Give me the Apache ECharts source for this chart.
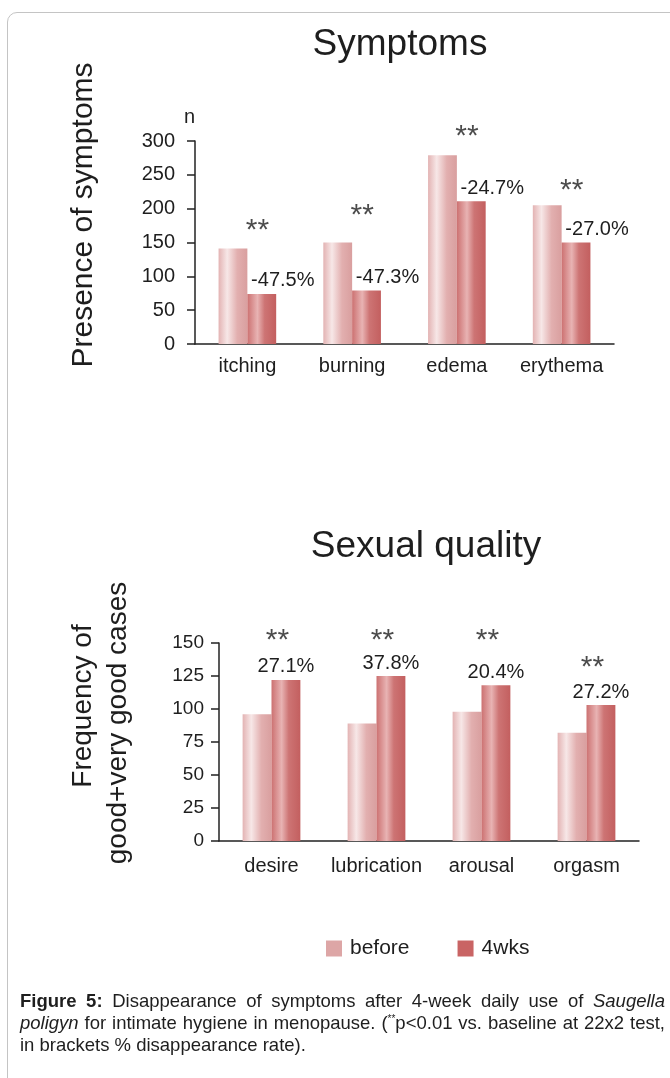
<!DOCTYPE html>
<html>
<head>
<meta charset="utf-8">
<script src="https://cdn.jsdelivr.net/npm/echarts@6/dist/echarts.min.js"></script>
<style>
  html, body { margin: 0; padding: 0; background: #fff; }
  #wrap { position: relative; width: 670px; height: 1078px; overflow: hidden; }
  #frame { position: absolute; left: 7px; top: 12px; width: 700px; height: 1100px;
    border: 1.5px solid #c4c4c4; border-radius: 10px; }
  #chart { position: absolute; left: 0; top: 0; width: 670px; height: 1078px; }
  #caption { position: absolute; left: 20px; top: 990px; width: 645px;
    font-family: 'Liberation Sans', Arial, sans-serif; font-size: 18.5px; color: #1e1e1e; line-height: 22px; }
  #caption div { text-align: justify; text-align-last: justify; white-space: nowrap; }
  #caption div.last { text-align-last: left; }
  sup { font-size: 10px; line-height: 0; }
</style>
</head>
<body>
<div id="wrap">
  <div id="frame"></div>
  <div id="chart"></div>
  <div id="caption">
    <div><b>Figure 5:</b> Disappearance of symptoms after 4-week daily use of <i>Saugella</i></div>
    <div><i>poligyn</i> for intimate hygiene in menopause. (<sup>**</sup>p&lt;0.01 vs. baseline at 22x2 test,</div>
    <div class="last">in brackets % disappearance rate).</div>
  </div>
</div>
<script>
// symptoms chart
const symCats = ['itching', 'burning', 'edema', 'erythema']
const symBefore = [141, 150, 279, 205]
const symAfter = [74, 79, 211, 150]
const symPct = ['-47.5%', '-47.3%', '-24.7%', '-27.0%']
const symStars = [168, 189, 306, 226]
const symTicks = { min: 0, max: 300, interval: 50 }

// sexual quality chart
const sexCats = ['desire', 'lubrication', 'arousal', 'orgasm']
const sexBefore = [96, 89, 98, 82]
const sexAfter = [122, 125, 118, 103]
const sexPct = ['27.1%', '37.8%', '20.4%', '27.2%']
const sexStars = [152, 152, 152, 131]
const sexTicks = { min: 0, max: 150, interval: 25 }

const FONT = "'Liberation Sans', Arial, sans-serif"
const TXT = '#1e1e1e'

const chart = echarts.init(document.getElementById('chart'))

const beforeFill = new echarts.graphic.LinearGradient(0, 0, 1, 0, [
  { offset: 0, color: '#e3b3b3' },
  { offset: 0.3, color: '#f7e7e7' },
  { offset: 0.65, color: '#e2afaf' },
  { offset: 1, color: '#d99f9f' }
])
const afterFill = new echarts.graphic.LinearGradient(0, 0, 1, 0, [
  { offset: 0, color: '#cc7171' },
  { offset: 0.35, color: '#e8b3b3' },
  { offset: 0.6, color: '#cd7474' },
  { offset: 1, color: '#c35f5f' }
])

function xAxis(cats, idx, margin) {
  return {
    type: 'category', gridIndex: idx, data: cats,
    axisLine: { lineStyle: { color: '#222', width: 1.5 } },
    axisTick: { length: 7, lineStyle: { color: '#222', width: 1.5 } },
    axisLabel: { interval: 0, color: TXT, fontSize: 20, fontFamily: FONT, margin: margin }
  }
}

function yAxis(t, idx, fontSize, margin, name) {
  return {
    type: 'value', gridIndex: idx, min: t.min, max: t.max, interval: t.interval,
    name: name, nameLocation: 'end', nameGap: 14,
    nameTextStyle: { color: TXT, fontSize: 20, fontFamily: FONT, align: 'right' },
    axisLine: { show: true, lineStyle: { color: '#222', width: 1.5 } },
    axisTick: { show: true, length: 8, lineStyle: { color: '#222', width: 1.5 } },
    axisLabel: { color: TXT, fontSize: fontSize, fontFamily: FONT, margin: margin },
    splitLine: { show: false }
  }
}

function bars(idx, before, after, pct, stars, pctOffset, starOffset) {
  return [
    {
      name: 'before', type: 'bar', xAxisIndex: idx, yAxisIndex: idx,
      data: before, barGap: '0%', barCategoryGap: '45%',
      itemStyle: { color: beforeFill }
    },
    {
      name: '4wks', type: 'bar', xAxisIndex: idx, yAxisIndex: idx,
      data: after, barGap: '0%', barCategoryGap: '45%',
      itemStyle: { color: afterFill },
      label: {
        show: true, position: 'top', distance: 3, offset: pctOffset,
        color: TXT, fontSize: 20, fontFamily: FONT,
        formatter: (p) => pct[p.dataIndex]
      }
    },
    {
      type: 'scatter', xAxisIndex: idx, yAxisIndex: idx, silent: true, clip: false,
      data: stars, symbolSize: 0,
      label: {
        show: true, position: 'inside', offset: starOffset, formatter: '**',
        color: TXT, fontSize: 30, fontFamily: FONT
      }
    }
  ]
}

chart.setOption({
  backgroundColor: 'transparent',
  animation: false,
  grid: [
    { left: 195, top: 141, width: 419, height: 203 },
    { left: 219, top: 643, width: 420, height: 198 }
  ],
  xAxis: [xAxis(symCats, 0, 12), xAxis(sexCats, 1, 15)],
  yAxis: [yAxis(symTicks, 0, 20, 20, 'n'), yAxis(sexTicks, 1, 19, 15, '')],
  legend: {
    left: 321, top: 933, itemWidth: 16, itemHeight: 16, itemGap: 48, icon: 'rect',
    textStyle: { color: TXT, fontSize: 21, fontFamily: FONT, padding: [0, 0, 0, 3] },
    data: [
      { name: 'before', itemStyle: { color: '#dda6a6' } },
      { name: '4wks', itemStyle: { color: '#c96464' } }
    ]
  },
  graphic: [
    { type: 'text', x: 400, y: 45, style: { text: 'Symptoms', fill: TXT, font: '37px ' + FONT, align: 'center', verticalAlign: 'middle' } },
    { type: 'text', x: 426, y: 547, style: { text: 'Sexual quality', fill: TXT, font: '37px ' + FONT, align: 'center', verticalAlign: 'middle' } },
    { type: 'text', x: 84, y: 215, rotation: Math.PI / 2, style: { text: 'Presence of symptoms', fill: TXT, font: '30px ' + FONT, align: 'center', verticalAlign: 'middle' } },
    { type: 'text', x: 83, y: 706, rotation: Math.PI / 2, style: { text: 'Frequency of', fill: TXT, font: '28px ' + FONT, align: 'center', verticalAlign: 'middle' } },
    { type: 'text', x: 118, y: 723, rotation: Math.PI / 2, style: { text: 'good+very good cases', fill: TXT, font: '28px ' + FONT, align: 'center', verticalAlign: 'middle' } }
  ],
  series: [
    ...bars(0, symBefore, symAfter, symPct, symStars, [21, 0], [10, 0]),
    ...bars(1, sexBefore, sexAfter, sexPct, sexStars, [0, 0], [6, 0])
  ]
})
</script>
</body>
</html>
